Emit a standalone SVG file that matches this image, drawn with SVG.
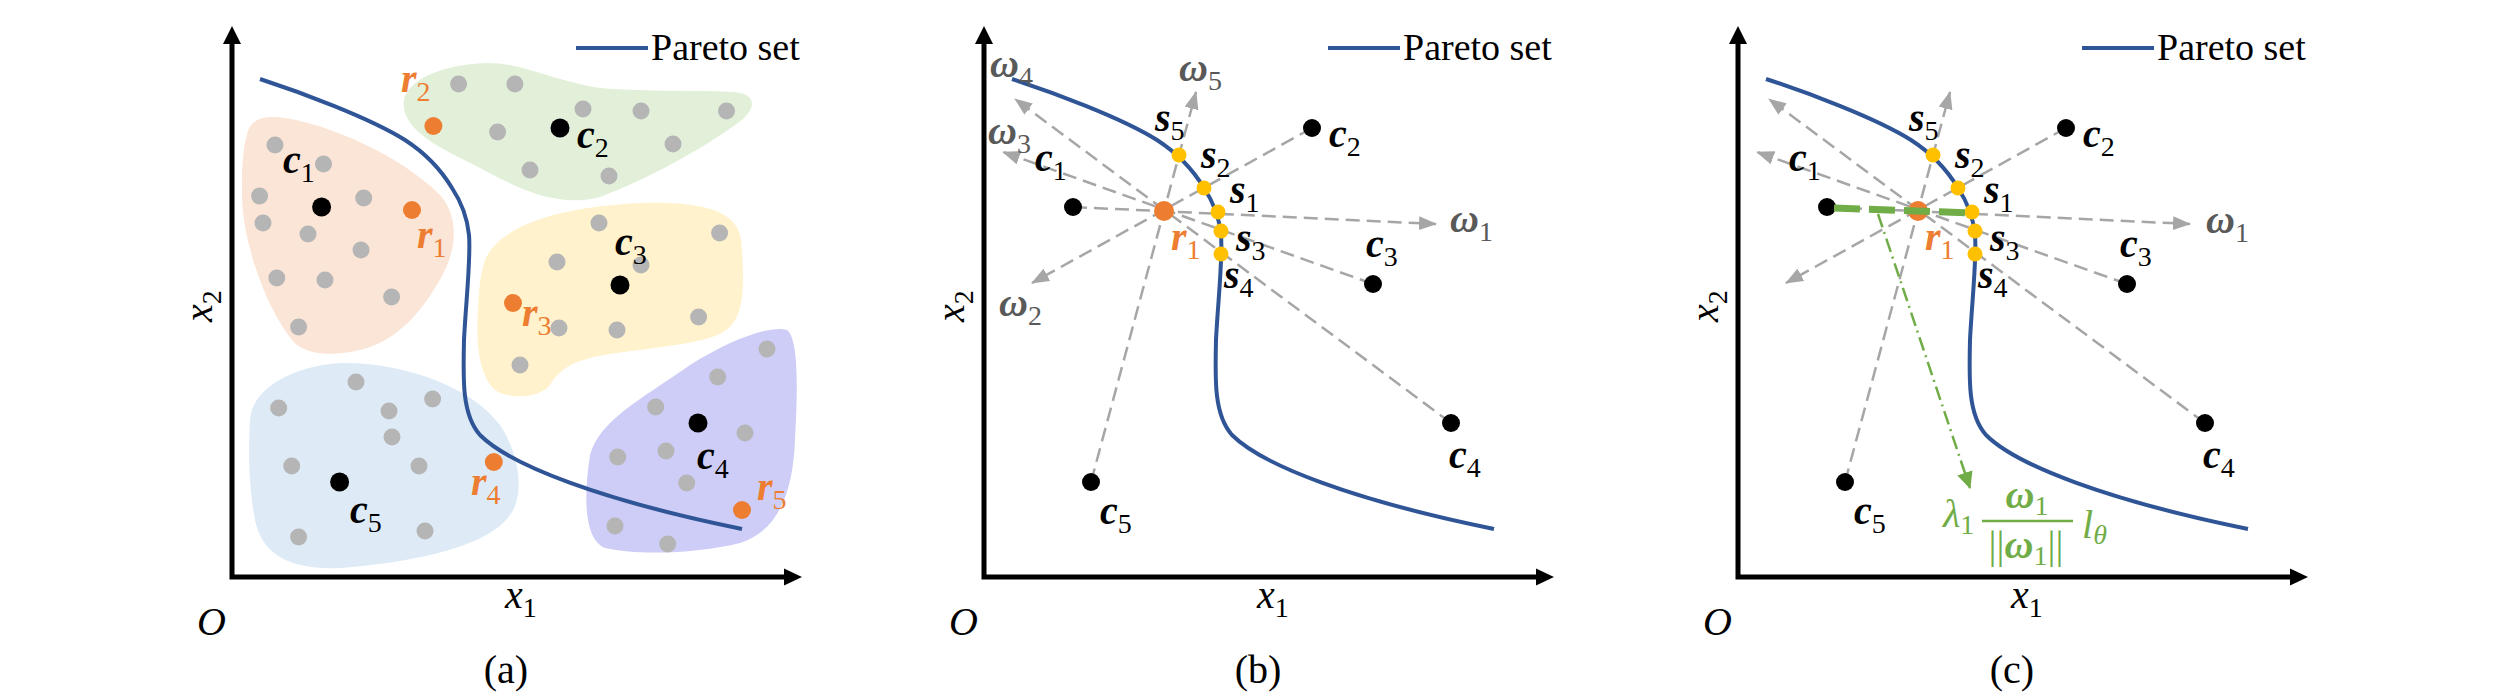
<svg xmlns="http://www.w3.org/2000/svg" width="2519" height="697" viewBox="0 0 2519 697">
<style>
text{font-family:"Liberation Serif","Times New Roman",serif;font-size:40px;fill:#000}
.bi{font-weight:bold;font-style:italic}
.it{font-style:italic}
.sub{font-size:28px;font-style:normal;font-weight:normal}
.legend{font-size:38px}
.axis{stroke:#000;stroke-width:5;fill:none}
.ahead{fill:#000}
.pareto{stroke:#2f5597;stroke-width:4;fill:none}
.dash{stroke:#a6a6a6;stroke-width:2.5;stroke-dasharray:14 7;fill:none}
.gd{fill:#b5b5b5}
.bd{fill:#000}
.od{fill:#ed7d31}
.yd{fill:#ffc000}
.ot{fill:#ed7d31}
.wt{fill:#595959}
.gt{fill:#70ad47}
</style>
<defs>
<marker id="garr" markerUnits="userSpaceOnUse" markerWidth="18" markerHeight="14" viewBox="0 0 18 14" refX="17" refY="7" orient="auto"><path d="M0,0 L18,7 L0,14 z" fill="#a6a6a6"/></marker>
<marker id="gnarr" markerUnits="userSpaceOnUse" markerWidth="17" markerHeight="16" viewBox="0 0 17 16" refX="16" refY="8" orient="auto"><path d="M0,0 L17,8 L0,16 z" fill="#70ad47"/></marker>
</defs>

<!-- ================= Panel (a) ================= -->
<g id="panel-a">
  <g id="a-cluster1">
    <path fill="#fbe5d6" d="M247,135 C250,118 265,115 285,118 C330,125 400,155 440,195 C458,215 457,245 445,270 C430,300 405,335 370,347 C340,357 305,357 292,340 C272,315 252,270 244,220 C240,190 242,150 247,135 Z"/>
    <circle class="gd" cx="275" cy="145" r="8.5"/><circle class="gd" cx="323.5" cy="164" r="8.5"/><circle class="gd" cx="259.6" cy="196" r="8.5"/><circle class="gd" cx="363.7" cy="198" r="8.5"/><circle class="gd" cx="263" cy="223" r="8.5"/><circle class="gd" cx="308" cy="234" r="8.5"/><circle class="gd" cx="361" cy="250" r="8.5"/><circle class="gd" cx="276.8" cy="278" r="8.5"/><circle class="gd" cx="325" cy="280" r="8.5"/><circle class="gd" cx="391.6" cy="297" r="8.5"/><circle class="gd" cx="298.6" cy="327" r="8.5"/>
    <circle class="bd" cx="321.6" cy="207" r="9.5"/>
    <circle class="od" cx="412" cy="210" r="9"/>
  </g>
  <g id="a-cluster2">
    <path fill="#e2f0d9" d="M404,100 C408,80 440,65 486,63 C520,62 550,80 600,88 C650,92 700,90 735,92 C760,95 755,112 735,125 C700,150 650,178 600,197 C560,208 520,190 480,168 C440,148 400,130 404,100 Z"/>
    <circle class="gd" cx="458.6" cy="84" r="8.5"/><circle class="gd" cx="514.9" cy="84" r="8.5"/><circle class="gd" cx="497.6" cy="132" r="8.5"/><circle class="gd" cx="583" cy="109" r="8.5"/><circle class="gd" cx="641" cy="111" r="8.5"/><circle class="gd" cx="726.5" cy="111" r="8.5"/><circle class="gd" cx="673" cy="144" r="8.5"/><circle class="gd" cx="530" cy="170" r="8.5"/><circle class="gd" cx="609" cy="176" r="8.5"/>
    <circle class="bd" cx="560" cy="128" r="9.5"/>
    <circle class="od" cx="433.4" cy="126" r="9"/>
  </g>
  <g id="a-cluster3">
    <path fill="#fff2cc" d="M485,260 C500,225 560,207 640,203 C700,201 738,210 741,240 C744,270 745,305 735,320 C725,340 690,343 640,350 C590,356 565,360 550,385 C540,398 510,400 495,390 C478,375 476,340 478,310 C479,290 480,275 485,260 Z"/>
    <circle class="gd" cx="599" cy="223" r="8.5"/><circle class="gd" cx="719.6" cy="233" r="8.5"/><circle class="gd" cx="557" cy="262" r="8.5"/><circle class="gd" cx="641" cy="265" r="8.5"/><circle class="gd" cx="559" cy="328" r="8.5"/><circle class="gd" cx="617" cy="330" r="8.5"/><circle class="gd" cx="698.6" cy="317" r="8.5"/><circle class="gd" cx="520" cy="365" r="8.5"/>
    <circle class="bd" cx="620" cy="285" r="9.5"/>
    <circle class="od" cx="513" cy="303" r="9"/>
  </g>
  <g id="a-cluster5">
    <path fill="#deebf7" d="M250,420 C252,385 300,365 341,363 C400,362 470,385 500,425 C520,455 525,495 510,515 C490,545 420,562 340,568 C290,570 262,555 255,520 C249,490 248,450 250,420 Z"/>
    <circle class="gd" cx="356" cy="382" r="8.5"/><circle class="gd" cx="278.7" cy="408" r="8.5"/><circle class="gd" cx="389" cy="411" r="8.5"/><circle class="gd" cx="432.6" cy="399" r="8.5"/><circle class="gd" cx="392" cy="437" r="8.5"/><circle class="gd" cx="291.7" cy="466" r="8.5"/><circle class="gd" cx="419" cy="466" r="8.5"/><circle class="gd" cx="298.6" cy="537" r="8.5"/><circle class="gd" cx="425" cy="531" r="8.5"/>
    <circle class="bd" cx="339.6" cy="482" r="9.5"/>
    <circle class="od" cx="493.8" cy="462" r="9"/>
  </g>
  <g id="a-cluster4">
    <path fill="#cdcdf7" d="M590,455 C600,420 640,400 690,365 C730,340 770,325 787,330 C800,340 797,400 795,440 C793,490 780,530 740,543 C700,553 640,556 605,548 C585,540 583,500 590,455 Z"/>
    <circle class="gd" cx="767" cy="349" r="8.5"/><circle class="gd" cx="717.7" cy="377" r="8.5"/><circle class="gd" cx="655.7" cy="407" r="8.5"/><circle class="gd" cx="745" cy="433" r="8.5"/><circle class="gd" cx="666" cy="451" r="8.5"/><circle class="gd" cx="617.7" cy="457" r="8.5"/><circle class="gd" cx="686.7" cy="483" r="8.5"/><circle class="gd" cx="615" cy="526" r="8.5"/><circle class="gd" cx="667.7" cy="544" r="8.5"/>
    <circle class="bd" cx="698" cy="423" r="9.5"/>
    <circle class="od" cx="742" cy="510" r="9"/>
  </g>
  <path id="a-pareto" class="pareto" d="M260,79 C300,92 370,118 405,140 C422,151 440,168 452,188 C460,200 467,215 469,235 C471,258 466,300 464,340 C463,380 462,415 480,435 C510,465 600,500 742,529"/>
  <g id="a-labels">
    <text x="283" y="173"><tspan class="bi">c</tspan><tspan class="sub" dy="9">1</tspan></text>
    <text x="577" y="148"><tspan class="bi">c</tspan><tspan class="sub" dy="9">2</tspan></text>
    <text x="615" y="255"><tspan class="bi">c</tspan><tspan class="sub" dy="9">3</tspan></text>
    <text x="697" y="469"><tspan class="bi">c</tspan><tspan class="sub" dy="9">4</tspan></text>
    <text x="350" y="523"><tspan class="bi">c</tspan><tspan class="sub" dy="9">5</tspan></text>
    <text class="ot" x="417" y="248"><tspan class="bi">r</tspan><tspan class="sub" dy="9">1</tspan></text>
    <text class="ot" x="401" y="92"><tspan class="bi">r</tspan><tspan class="sub" dy="9">2</tspan></text>
    <text class="ot" x="522" y="326"><tspan class="bi">r</tspan><tspan class="sub" dy="9">3</tspan></text>
    <text class="ot" x="471" y="495"><tspan class="bi">r</tspan><tspan class="sub" dy="9">4</tspan></text>
    <text class="ot" x="757" y="500"><tspan class="bi">r</tspan><tspan class="sub" dy="9">5</tspan></text>
  </g>
  <g id="a-axes">
    <path class="axis" d="M232,42 V577 H786"/>
    <polygon class="ahead" points="232,26 241,44 223,44"/>
    <polygon class="ahead" points="802,577 784,568.5 784,585.5"/>
    <text class="it" x="197" y="635">O</text>
    <text x="505" y="608"><tspan class="it">x</tspan><tspan class="sub" dy="9">1</tspan></text>
    <text transform="translate(212,322) rotate(-90)"><tspan class="it">x</tspan><tspan class="sub" dy="9">2</tspan></text>
    <text x="506" y="683" text-anchor="middle">(a)</text>
  </g>
  <g id="a-legend">
    <line class="pareto" x1="576" y1="48" x2="648" y2="48"/>
    <text class="legend" x="651" y="60">Pareto set</text>
  </g>
</g>

<!-- ================= Panel (b) ================= -->
<g id="panel-b" transform="translate(752,0)">
  <path id="b-pareto" class="pareto" d="M260,79 C300,92 370,118 405,140 C422,151 440,168 452,188 C460,200 467,215 469,235 C471,258 466,300 464,340 C463,380 462,415 480,435 C510,465 600,500 742,529"/>
  <g id="b-connectors">
    <path class="dash" d="M321,207 L684,224" marker-end="url(#garr)"/>
    <path class="dash" d="M560,128 L280,283" marker-end="url(#garr)"/>
    <path class="dash" d="M621,284 L251,152" marker-end="url(#garr)"/>
    <path class="dash" d="M699,423 L263,99" marker-end="url(#garr)"/>
    <path class="dash" d="M339,482 L444,92" marker-end="url(#garr)"/>
  </g>
  <g id="b-c1"><circle class="bd" cx="321" cy="207" r="9"/><text x="283" y="171"><tspan class="bi">c</tspan><tspan class="sub" dy="9">1</tspan></text></g>
  <g id="b-c2"><circle class="bd" cx="560" cy="128" r="9"/><text x="577" y="147"><tspan class="bi">c</tspan><tspan class="sub" dy="9">2</tspan></text></g>
  <g id="b-c3"><circle class="bd" cx="621" cy="284" r="9"/><text x="614" y="257"><tspan class="bi">c</tspan><tspan class="sub" dy="9">3</tspan></text></g>
  <g id="b-c4"><circle class="bd" cx="699" cy="423" r="9"/><text x="697" y="468"><tspan class="bi">c</tspan><tspan class="sub" dy="9">4</tspan></text></g>
  <g id="b-c5"><circle class="bd" cx="339" cy="482" r="9"/><text x="348" y="524"><tspan class="bi">c</tspan><tspan class="sub" dy="9">5</tspan></text></g>
  <g id="b-r1"><circle class="od" cx="412" cy="211" r="10"/><text class="ot" x="419" y="250"><tspan class="bi">r</tspan><tspan class="sub" dy="9">1</tspan></text></g>
  <g id="b-s5"><circle class="yd" cx="427" cy="155" r="7.5"/><text x="403" y="131"><tspan class="bi">s</tspan><tspan class="sub" dy="9">5</tspan></text></g>
  <g id="b-s2"><circle class="yd" cx="452" cy="188" r="7.5"/><text x="449" y="168"><tspan class="bi">s</tspan><tspan class="sub" dy="9">2</tspan></text></g>
  <g id="b-s1"><circle class="yd" cx="466" cy="212" r="7.5"/><text x="478" y="203"><tspan class="bi">s</tspan><tspan class="sub" dy="9">1</tspan></text></g>
  <g id="b-s3"><circle class="yd" cx="469" cy="231" r="7.5"/><text x="484" y="251"><tspan class="bi">s</tspan><tspan class="sub" dy="9">3</tspan></text></g>
  <g id="b-s4"><circle class="yd" cx="469" cy="254" r="7.5"/><text x="472" y="288"><tspan class="bi">s</tspan><tspan class="sub" dy="9">4</tspan></text></g>
  <g id="b-omegas">
    <text class="wt" x="698" y="232"><tspan class="bi">ω</tspan><tspan class="sub" dy="9">1</tspan></text>
    <text class="wt" x="247" y="316"><tspan class="bi">ω</tspan><tspan class="sub" dy="9">2</tspan></text>
    <text class="wt" x="236" y="144"><tspan class="bi">ω</tspan><tspan class="sub" dy="9">3</tspan></text>
    <text class="wt" x="238" y="77"><tspan class="bi">ω</tspan><tspan class="sub" dy="9">4</tspan></text>
    <text class="wt" x="427" y="81"><tspan class="bi">ω</tspan><tspan class="sub" dy="9">5</tspan></text>
  </g>
  <g id="b-axes">
    <path class="axis" d="M232,42 V577 H786"/>
    <polygon class="ahead" points="232,26 241,44 223,44"/>
    <polygon class="ahead" points="802,577 784,568.5 784,585.5"/>
    <text class="it" x="197" y="635">O</text>
    <text x="505" y="608"><tspan class="it">x</tspan><tspan class="sub" dy="9">1</tspan></text>
    <text transform="translate(212,322) rotate(-90)"><tspan class="it">x</tspan><tspan class="sub" dy="9">2</tspan></text>
    <text x="506" y="683" text-anchor="middle">(b)</text>
  </g>
  <g id="b-legend">
    <line class="pareto" x1="576" y1="48" x2="648" y2="48"/>
    <text class="legend" x="651" y="60">Pareto set</text>
  </g>
</g>

<!-- ================= Panel (c) ================= -->
<g id="panel-c" transform="translate(1506,0)">
  <path id="c-pareto" class="pareto" d="M260,79 C300,92 370,118 405,140 C422,151 440,168 452,188 C460,200 467,215 469,235 C471,258 466,300 464,340 C463,380 462,415 480,435 C510,465 600,500 742,529"/>
  <g id="c-connectors">
    <path class="dash" d="M321,207 L684,224" marker-end="url(#garr)"/>
    <path class="dash" d="M560,128 L280,283" marker-end="url(#garr)"/>
    <path class="dash" d="M621,284 L251,152" marker-end="url(#garr)"/>
    <path class="dash" d="M699,423 L263,99" marker-end="url(#garr)"/>
    <path class="dash" d="M339,482 L444,92" marker-end="url(#garr)"/>
  </g>
  <g id="c-c1"><circle class="bd" cx="321" cy="207" r="9"/><text x="283" y="171"><tspan class="bi">c</tspan><tspan class="sub" dy="9">1</tspan></text></g>
  <g id="c-c2"><circle class="bd" cx="560" cy="128" r="9"/><text x="577" y="147"><tspan class="bi">c</tspan><tspan class="sub" dy="9">2</tspan></text></g>
  <g id="c-c3"><circle class="bd" cx="621" cy="284" r="9"/><text x="614" y="257"><tspan class="bi">c</tspan><tspan class="sub" dy="9">3</tspan></text></g>
  <g id="c-c4"><circle class="bd" cx="699" cy="423" r="9"/><text x="697" y="468"><tspan class="bi">c</tspan><tspan class="sub" dy="9">4</tspan></text></g>
  <g id="c-c5"><circle class="bd" cx="339" cy="482" r="9"/><text x="348" y="524"><tspan class="bi">c</tspan><tspan class="sub" dy="9">5</tspan></text></g>
  <g id="c-r1"><circle class="od" cx="412" cy="211" r="10"/><text class="ot" x="419" y="250"><tspan class="bi">r</tspan><tspan class="sub" dy="9">1</tspan></text></g>
  <g id="c-s5"><circle class="yd" cx="427" cy="155" r="7.5"/><text x="403" y="131"><tspan class="bi">s</tspan><tspan class="sub" dy="9">5</tspan></text></g>
  <g id="c-s2"><circle class="yd" cx="452" cy="188" r="7.5"/><text x="449" y="168"><tspan class="bi">s</tspan><tspan class="sub" dy="9">2</tspan></text></g>
  <g id="c-s1"><circle class="yd" cx="466" cy="212" r="7.5"/><text x="478" y="203"><tspan class="bi">s</tspan><tspan class="sub" dy="9">1</tspan></text></g>
  <g id="c-s3"><circle class="yd" cx="469" cy="231" r="7.5"/><text x="484" y="251"><tspan class="bi">s</tspan><tspan class="sub" dy="9">3</tspan></text></g>
  <g id="c-s4"><circle class="yd" cx="469" cy="254" r="7.5"/><text x="472" y="288"><tspan class="bi">s</tspan><tspan class="sub" dy="9">4</tspan></text></g>
  <g id="c-green">
    <path d="M328,208 L464,213" stroke="#70ad47" stroke-width="7" stroke-dasharray="26 9" fill="none"/>
    <path d="M372,214 L464,488" stroke="#70ad47" stroke-width="2.5" stroke-dasharray="14 5 2 5" fill="none" marker-end="url(#gnarr)"/>
  </g>
  <g id="c-omega1">
    <text class="wt" x="700" y="233"><tspan class="bi">ω</tspan><tspan class="sub" dy="9">1</tspan></text>
  </g>
  <g id="c-formula">
    <text class="gt" x="437" y="527"><tspan class="it">λ</tspan><tspan class="sub" dy="7">1</tspan></text>
    <text class="gt" x="521" y="508" text-anchor="middle"><tspan class="bi">ω</tspan><tspan class="sub" dy="7">1</tspan></text>
    <line x1="476" y1="521" x2="567" y2="521" stroke="#70ad47" stroke-width="2.5"/>
    <text class="gt" x="520" y="558" text-anchor="middle">||<tspan class="bi">ω</tspan><tspan class="sub" dy="7">1</tspan><tspan dy="-7">||</tspan></text>
    <text class="gt" x="576" y="538"><tspan class="it">l</tspan><tspan class="sub" dy="6" style="font-style:italic">θ</tspan></text>
  </g>
  <g id="c-axes">
    <path class="axis" d="M232,42 V577 H786"/>
    <polygon class="ahead" points="232,26 241,44 223,44"/>
    <polygon class="ahead" points="802,577 784,568.5 784,585.5"/>
    <text class="it" x="197" y="635">O</text>
    <text x="505" y="608"><tspan class="it">x</tspan><tspan class="sub" dy="9">1</tspan></text>
    <text transform="translate(212,322) rotate(-90)"><tspan class="it">x</tspan><tspan class="sub" dy="9">2</tspan></text>
    <text x="506" y="683" text-anchor="middle">(c)</text>
  </g>
  <g id="c-legend">
    <line class="pareto" x1="576" y1="48" x2="648" y2="48"/>
    <text class="legend" x="651" y="60">Pareto set</text>
  </g>
</g>
</svg>
